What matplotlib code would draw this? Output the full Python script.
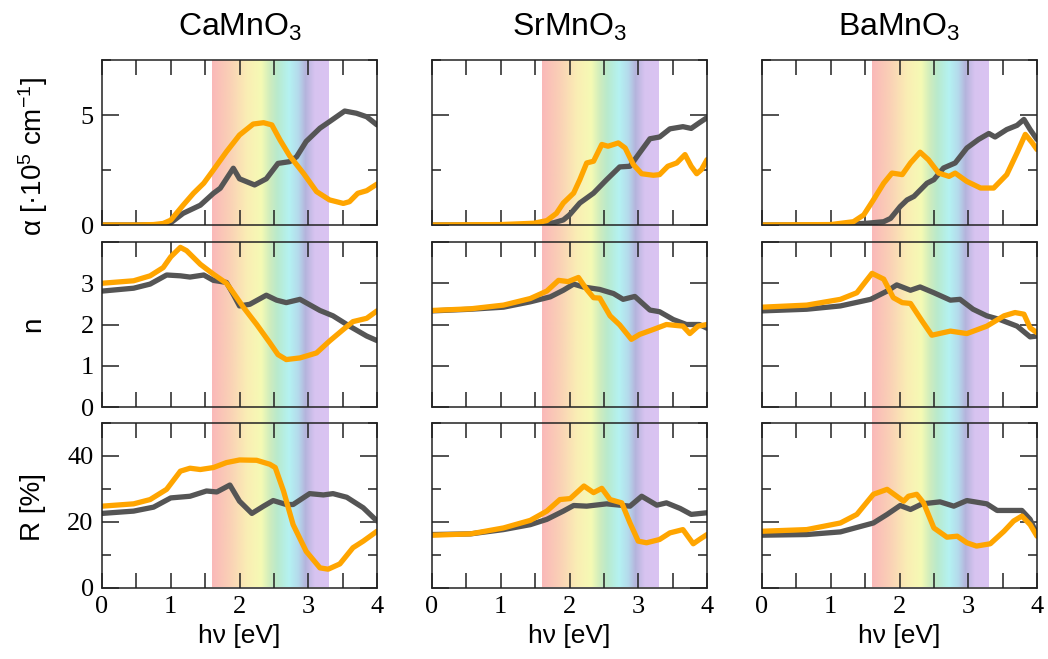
import matplotlib
matplotlib.use('Agg')
import matplotlib.pyplot as plt
import numpy as np
from matplotlib.colors import LinearSegmentedColormap
from matplotlib.ticker import MultipleLocator, FuncFormatter

plt.rcParams['font.family'] = ['Liberation Sans', 'DejaVu Sans']
plt.rcParams['mathtext.default'] = 'regular'

# materials (columns)
materials = ['CaMnO$_3$', 'SrMnO$_3$', 'BaMnO$_3$']

# --- CaMnO3 ---
ca_a_gx = [0, 0.5, 0.8, 0.94, 1.0, 1.18, 1.43, 1.62, 1.72, 1.91, 2.0, 2.22, 2.39, 2.56, 2.73, 2.83, 2.97, 3.17, 3.31, 3.53, 3.70, 3.85, 4.0]
ca_a_gy = [0, 0, 0.01, 0.02, 0.1, 0.53, 0.9, 1.44, 1.67, 2.58, 2.1, 1.82, 2.1, 2.8, 2.88, 3.1, 3.8, 4.4, 4.7, 5.18, 5.08, 4.92, 4.55]
ca_a_ox = [0, 0.5, 0.75, 0.89, 1.0, 1.18, 1.33, 1.48, 1.62, 1.81, 2.0, 2.2, 2.35, 2.47, 2.59, 2.73, 2.93, 3.12, 3.31, 3.51, 3.60, 3.72, 3.85, 4.0]
ca_a_oy = [0, 0, 0.02, 0.07, 0.22, 0.9, 1.44, 1.9, 2.5, 3.33, 4.09, 4.59, 4.65, 4.55, 3.86, 3.14, 2.35, 1.52, 1.14, 0.98, 1.06, 1.44, 1.56, 1.86]

ca_n_gx = [0, 0.46, 0.70, 0.94, 1.14, 1.28, 1.48, 1.62, 1.81, 1.91, 2.0, 2.15, 2.39, 2.54, 2.68, 2.88, 3.17, 3.36, 3.60, 3.85, 4.0]
ca_n_gy = [2.81, 2.88, 2.98, 3.2, 3.18, 3.15, 3.2, 3.07, 3.02, 2.73, 2.45, 2.49, 2.71, 2.59, 2.53, 2.61, 2.34, 2.21, 1.96, 1.72, 1.61]
ca_n_ox = [0, 0.46, 0.70, 0.89, 1.0, 1.14, 1.23, 1.43, 1.62, 1.81, 1.91, 2.06, 2.25, 2.44, 2.56, 2.68, 2.88, 3.12, 3.31, 3.51, 3.65, 3.85, 4.0]
ca_n_oy = [3.0, 3.06, 3.18, 3.38, 3.64, 3.87, 3.79, 3.46, 3.22, 3.0, 2.77, 2.41, 2.0, 1.56, 1.27, 1.15, 1.19, 1.31, 1.6, 1.88, 2.07, 2.15, 2.33]

ca_r_gx = [0, 0.46, 0.75, 1.0, 1.28, 1.52, 1.67, 1.86, 2.0, 2.18, 2.35, 2.49, 2.68, 2.78, 3.02, 3.22, 3.36, 3.56, 3.80, 4.0]
ca_r_gy = [22.6, 23.3, 24.5, 27.3, 27.8, 29.4, 29.1, 31.2, 26.3, 22.6, 24.8, 26.5, 25.3, 25.3, 28.6, 28.2, 28.6, 27.5, 24.3, 20.3]
ca_r_ox = [0, 0.46, 0.70, 0.94, 1.14, 1.28, 1.43, 1.62, 1.81, 2.0, 2.25, 2.44, 2.52, 2.64, 2.78, 2.97, 3.17, 3.29, 3.46, 3.65, 3.80, 4.0]
ca_r_oy = [24.8, 25.5, 26.8, 29.9, 35.4, 36.3, 35.9, 36.5, 38.0, 38.8, 38.7, 37.5, 36.5, 29.4, 19.2, 11.1, 6.1, 5.7, 7.3, 12.2, 14.2, 17.2]

# --- SrMnO3 ---
sr_a_gx = [0, 1.0, 1.6, 1.77, 1.91, 2.0, 2.15, 2.35, 2.54, 2.73, 2.88, 3.02, 3.17, 3.31, 3.46, 3.65, 3.77, 3.89, 4.0]
sr_a_gy = [0, 0, 0.03, 0.1, 0.23, 0.46, 1.0, 1.45, 2.06, 2.64, 2.67, 3.28, 3.92, 4.0, 4.37, 4.47, 4.39, 4.65, 4.88]
sr_a_ox = [0, 1.0, 1.48, 1.67, 1.81, 1.91, 2.06, 2.15, 2.25, 2.35, 2.47, 2.56, 2.71, 2.81, 2.93, 3.05, 3.22, 3.31, 3.43, 3.56, 3.68, 3.77, 3.85, 3.92, 4.0]
sr_a_oy = [0, 0.02, 0.08, 0.2, 0.53, 1.0, 1.45, 2.06, 2.82, 2.9, 3.66, 3.58, 3.73, 3.5, 2.74, 2.33, 2.26, 2.29, 2.67, 2.82, 3.2, 2.67, 2.33, 2.52, 2.97]

sr_n_gx = [0, 0.56, 1.04, 1.43, 1.72, 1.91, 2.06, 2.2, 2.44, 2.64, 2.78, 2.95, 3.17, 3.31, 3.51, 3.70, 3.89, 4.0]
sr_n_gy = [2.33, 2.37, 2.42, 2.55, 2.67, 2.83, 2.98, 2.91, 2.85, 2.75, 2.61, 2.68, 2.35, 2.31, 2.12, 2.0, 2.0, 1.91]
sr_n_ox = [0, 0.56, 1.04, 1.43, 1.67, 1.84, 1.98, 2.13, 2.25, 2.35, 2.44, 2.59, 2.73, 2.90, 3.02, 3.22, 3.41, 3.65, 3.75, 3.87, 4.0]
sr_n_oy = [2.34, 2.38, 2.47, 2.63, 2.81, 3.07, 3.04, 3.14, 2.85, 2.65, 2.64, 2.21, 1.99, 1.64, 1.76, 1.88, 2.0, 1.96, 1.78, 1.96, 2.0]

sr_r_gx = [0, 0.56, 1.04, 1.43, 1.67, 1.91, 2.06, 2.25, 2.54, 2.78, 2.88, 3.05, 3.27, 3.41, 3.61, 3.77, 4.0]
sr_r_gy = [16.2, 16.4, 17.7, 19.2, 20.8, 23.3, 25.0, 24.8, 25.5, 25.0, 24.8, 27.8, 25.1, 25.8, 24.1, 22.3, 22.8]
sr_r_ox = [0, 0.56, 1.04, 1.43, 1.67, 1.86, 2.01, 2.21, 2.35, 2.47, 2.59, 2.76, 2.88, 3.0, 3.12, 3.31, 3.46, 3.65, 3.80, 3.89, 4.0]
sr_r_oy = [16.0, 16.4, 18.2, 20.5, 23.3, 26.8, 27.1, 30.9, 28.9, 30.2, 26.8, 25.8, 19.7, 14.2, 13.7, 14.7, 16.7, 17.7, 13.4, 14.7, 16.2]

# --- BaMnO3 ---
ba_a_gx = [0, 1.0, 1.53, 1.77, 1.87, 2.01, 2.11, 2.21, 2.40, 2.50, 2.64, 2.81, 2.98, 3.15, 3.30, 3.39, 3.56, 3.71, 3.81, 3.90, 4.0]
ba_a_gy = [0, 0, 0.08, 0.15, 0.3, 0.84, 1.14, 1.3, 1.9, 2.06, 2.59, 2.82, 3.5, 3.89, 4.16, 4.0, 4.34, 4.53, 4.8, 4.34, 3.89]
ba_a_ox = [0, 1.0, 1.33, 1.48, 1.62, 1.77, 1.89, 2.04, 2.16, 2.30, 2.42, 2.57, 2.72, 2.81, 2.98, 3.18, 3.37, 3.56, 3.71, 3.83, 3.93, 4.0]
ba_a_oy = [0, 0.02, 0.15, 0.46, 1.14, 1.9, 2.36, 2.29, 2.82, 3.31, 2.97, 2.36, 2.21, 2.36, 1.98, 1.68, 1.68, 2.29, 3.28, 4.12, 3.74, 3.43]

ba_n_gx = [0, 0.65, 1.14, 1.58, 1.82, 1.96, 2.16, 2.30, 2.50, 2.74, 2.88, 3.07, 3.27, 3.46, 3.71, 3.90, 4.0]
ba_n_gy = [2.33, 2.37, 2.45, 2.61, 2.81, 2.96, 2.83, 2.91, 2.77, 2.59, 2.61, 2.37, 2.21, 2.12, 1.96, 1.7, 1.72]
ba_n_ox = [0, 0.65, 1.14, 1.38, 1.60, 1.77, 1.91, 2.04, 2.16, 2.33, 2.47, 2.74, 2.98, 3.27, 3.52, 3.68, 3.81, 3.90, 4.0]
ba_n_oy = [2.42, 2.47, 2.61, 2.77, 3.24, 3.1, 2.65, 2.53, 2.51, 2.08, 1.74, 1.84, 1.78, 1.96, 2.21, 2.29, 2.25, 1.92, 1.8]

ba_r_gx = [0, 0.65, 1.14, 1.62, 1.82, 2.01, 2.16, 2.33, 2.59, 2.79, 2.98, 3.27, 3.42, 3.56, 3.78, 3.90, 4.0]
ba_r_gy = [16.0, 16.2, 17.0, 19.7, 22.3, 25.0, 23.8, 25.5, 26.1, 24.8, 26.5, 25.5, 23.5, 23.5, 23.5, 20.8, 16.2]
ba_r_ox = [0, 0.65, 1.14, 1.38, 1.62, 1.82, 1.96, 2.06, 2.13, 2.25, 2.35, 2.50, 2.69, 2.84, 2.98, 3.12, 3.32, 3.52, 3.66, 3.78, 3.90, 4.0]
ba_r_oy = [17.2, 17.7, 19.7, 22.3, 28.4, 29.9, 27.8, 26.3, 27.8, 28.4, 25.8, 18.2, 15.4, 15.7, 13.7, 12.7, 13.4, 17.2, 20.3, 21.8, 19.2, 15.7]

# visible range (eV)
vis_lo, vis_hi = 1.6, 3.3

curves = [
    [(ca_a_gx, ca_a_gy, ca_a_ox, ca_a_oy), (ca_n_gx, ca_n_gy, ca_n_ox, ca_n_oy), (ca_r_gx, ca_r_gy, ca_r_ox, ca_r_oy)],
    [(sr_a_gx, sr_a_gy, sr_a_ox, sr_a_oy), (sr_n_gx, sr_n_gy, sr_n_ox, sr_n_oy), (sr_r_gx, sr_r_gy, sr_r_ox, sr_r_oy)],
    [(ba_a_gx, ba_a_gy, ba_a_ox, ba_a_oy), (ba_n_gx, ba_n_gy, ba_n_ox, ba_n_oy), (ba_r_gx, ba_r_gy, ba_r_ox, ba_r_oy)],
]

# rows: ylim, major, minor, highest labelled tick, ylabel
row_ylim = [(0, 7.5), (0, 4), (0, 50)]
row_major = [5, 1, 20]
row_minor = [2.5, 1, 10]
row_maxlab = [5, 3, 40]
row_labels = ['α [·10$^{5}$ cm$^{-1}$]', 'n', 'R [%]']

# rainbow for the visible band
rainbow = LinearSegmentedColormap.from_list('vis', [
    (0.00, (250/255, 185/255, 185/255)),
    (0.15, (250/255, 208/255, 182/255)),
    (0.30, (250/255, 238/255, 180/255)),
    (0.42, (245/255, 250/255, 180/255)),
    (0.50, (205/255, 236/255, 190/255)),
    (0.56, (185/255, 234/255, 205/255)),
    (0.66, (180/255, 242/255, 242/255)),
    (0.74, (180/255, 218/255, 236/255)),
    (0.80, (180/255, 180/255, 220/255)),
    (0.88, (215/255, 195/255, 240/255)),
    (1.00, (218/255, 196/255, 242/255)),
])

W, H = 1048, 659
fig = plt.figure(figsize=(W / 100, H / 100), dpi=100)

col_x0 = [102, 432, 762]
col_w = 275
row_top = [60, 242, 423]
row_h = 165

serif = 'Liberation Serif'


def ylab_fmt(top):
    return FuncFormatter(lambda v, p: '%g' % v if v <= top + 1e-6 else '')


for c in range(3):
    # background band spanning the whole column
    bg = fig.add_axes([col_x0[c] / W, 1 - 587 / H, col_w / W, (587 - 60) / H], zorder=0)
    grad = np.linspace(0, 1, 256).reshape(1, -1)
    bg.imshow(grad, cmap=rainbow, aspect='auto', extent=[vis_lo, vis_hi, 0, 1])
    bg.set_xlim(0, 4)
    bg.set_ylim(0, 1)
    bg.axis('off')

    for r in range(3):
        ax = fig.add_axes([col_x0[c] / W, 1 - (row_top[r] + row_h) / H, col_w / W, row_h / H], zorder=1)
        ax.set_facecolor('none')
        gx, gy, ox, oy = curves[c][r]
        ax.plot(gx, gy, color='#555555', lw=3.8, solid_joinstyle='round', solid_capstyle='round')
        ax.plot(ox, oy, color='#FFA500', lw=3.8, solid_joinstyle='round', solid_capstyle='round')
        ax.set_xlim(0, 4)
        ax.set_ylim(*row_ylim[r])
        ax.xaxis.set_major_locator(MultipleLocator(0.5))
        ax.xaxis.set_major_formatter(FuncFormatter(lambda v, p: '%d' % v if abs(v - round(v)) < 1e-6 else ''))
        ax.yaxis.set_major_locator(MultipleLocator(row_major[r]))
        ax.yaxis.set_minor_locator(MultipleLocator(row_minor[r]))
        ax.yaxis.set_major_formatter(ylab_fmt(row_maxlab[r]))
        ax.tick_params(axis='both', which='both', direction='in', top=True, right=True, width=1.1, color='#222222')
        ax.tick_params(axis='x', which='major', length=11, pad=6)
        ax.tick_params(axis='y', which='major', length=12, pad=6)
        ax.tick_params(axis='y', which='minor', length=6.5)
        for s in ax.spines.values():
            s.set_linewidth(1.1)
            s.set_color('#222222')
        ax.tick_params(labelsize=19)
        for lab in ax.get_xticklabels() + ax.get_yticklabels():
            lab.set_fontfamily(serif)
        if c > 0:
            ax.tick_params(axis='y', labelleft=False)
        if r < 2:
            ax.tick_params(axis='x', labelbottom=False)
        else:
            ax.set_xlabel('hν [eV]', fontsize=19, labelpad=4)
        if r == 0:
            ax.set_title(materials[c], fontsize=23, pad=17)

# y labels on the left
label_y = [157, 324, 507]
for r in range(3):
    fig.text(33 / W, 1 - label_y[r] / H, row_labels[r], rotation=90, ha='center', va='center', fontsize=20)

plt.savefig('out.png', dpi=100)
